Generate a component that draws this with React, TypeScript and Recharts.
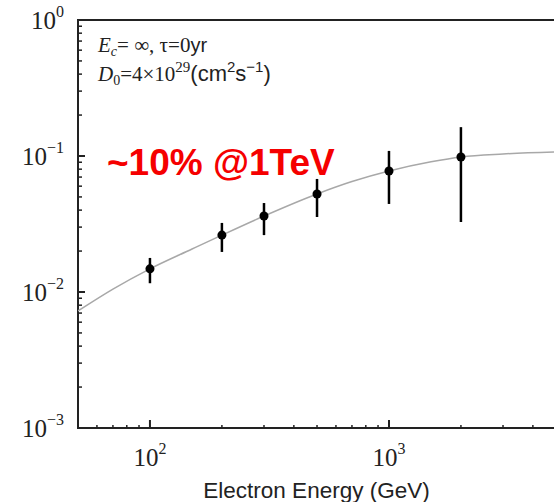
import React from "react";
import { ComposedChart, Line, Scatter, ErrorBar, XAxis, YAxis, ReferenceArea } from "recharts";

// measured points (GeV, value, error bar low / high)
const pointEnergy = [100, 200, 300, 500, 1000, 2000];
const pointValue = [0.0148, 0.0262, 0.0362, 0.0526, 0.0776, 0.0984];
const pointLow = [0.0116, 0.0197, 0.0262, 0.0356, 0.0444, 0.0327];
const pointHigh = [0.0178, 0.0322, 0.0451, 0.0678, 0.109, 0.163];

// model curve
const curveEnergy = [50, 70, 100, 150, 200, 300, 500, 700, 1000, 1500, 2000, 3000, 4950];
const curveValue = [0.00725, 0.0105, 0.0148, 0.0207, 0.0262, 0.0362, 0.0526, 0.0649, 0.0776, 0.0906, 0.0984, 0.1035, 0.107];

const xMajor = [100, 1000];
const xMajorExp = ["2", "3"];
const xMinor = [60, 70, 80, 90, 200, 300, 400, 500, 600, 700, 800, 900, 2000, 3000, 4000];
const yMajor = [0.001, 0.01, 0.1, 1];
const yMajorExp = ["\u22123", "\u22122", "\u22121", "0"];
const yMinor = [
  0.002, 0.003, 0.004, 0.005, 0.006, 0.007, 0.008, 0.009,
  0.02, 0.03, 0.04, 0.05, 0.06, 0.07, 0.08, 0.09,
  0.2, 0.3, 0.4, 0.5, 0.6, 0.7, 0.8, 0.9,
];

const xDomain: [number, number] = [50, 4950];
const yDomain: [number, number] = [0.001, 1];
const xTicks = [...xMajor, ...xMinor].sort((a, b) => a - b);
const yTicks = [...yMajor, ...yMinor].sort((a, b) => a - b);

const pointData = pointEnergy.map((e, i) => ({
  e,
  y: pointValue[i],
  err: [pointValue[i] - pointLow[i], pointHigh[i] - pointValue[i]],
}));
const curveData = curveEnergy.map((e, i) => ({ e, y: curveValue[i] }));

const ink = "#222";
const serif = "Liberation Serif, Times New Roman, serif";
const sans = "Liberation Sans, Arial, sans-serif";

const BottomTick = (props: any) => {
  const { x, y, payload } = props;
  const idx = xMajor.indexOf(payload.value);
  const major = idx >= 0;
  return (
    <g>
      <line x1={x} x2={x} y1={y} y2={y - (major ? 8 : 3)} stroke={ink} strokeWidth={major ? 2 : 1.5} />
      {major && (
        <text x={x} y={y + 38} textAnchor="middle" fontFamily={serif} fontSize={25} fill={ink}>
          10<tspan fontSize={16} dy={-12}>{xMajorExp[idx]}</tspan>
        </text>
      )}
    </g>
  );
};

const TopTick = (props: any) => {
  const { x, y, payload } = props;
  const major = xMajor.includes(payload.value);
  return <line x1={x} x2={x} y1={y} y2={y + (major ? 8 : 3)} stroke={ink} strokeWidth={major ? 2 : 1.5} />;
};

const LeftTick = (props: any) => {
  const { x, y, payload } = props;
  const idx = yMajor.indexOf(payload.value);
  const major = idx >= 0;
  return (
    <g>
      <line x1={x} x2={x + (major ? 7 : 4)} y1={y} y2={y} stroke={ink} strokeWidth={major ? 2 : 1.5} />
      {major && (
        <text x={x - 14} y={y + 9} textAnchor="end" fontFamily={serif} fontSize={25} fill={ink}>
          10<tspan fontSize={16} dy={-12}>{yMajorExp[idx]}</tspan>
        </text>
      )}
    </g>
  );
};

const RightTick = (props: any) => {
  const { x, y, payload } = props;
  const major = yMajor.includes(payload.value);
  return <line x1={x} x2={x - (major ? 7 : 4)} y1={y} y2={y} stroke={ink} strokeWidth={major ? 2 : 1.5} />;
};

export default function App() {
  return (
    <div style={{ position: "absolute", left: 0, top: 0, width: 554, height: 502, overflow: "hidden", background: "#fff" }}>
      <ComposedChart width={562} height={502} margin={{ top: 20, right: 7, bottom: 0, left: 0 }}>
        <XAxis
          dataKey="e"
          type="number"
          scale="log"
          domain={xDomain}
          allowDataOverflow
          ticks={xTicks}
          interval={0}
          height={74}
          axisLine={false}
          tickLine={false}
          tickSize={0}
          tickMargin={0}
          tick={<BottomTick />}
          label={{ value: "Electron Energy (GeV)", position: "insideBottom", offset: 4, fill: ink, fontSize: 22.5, fontFamily: sans }}
        />
        <XAxis
          xAxisId="top"
          orientation="top"
          dataKey="e"
          type="number"
          scale="log"
          domain={xDomain}
          allowDataOverflow
          ticks={xTicks}
          interval={0}
          height={0}
          axisLine={false}
          tickLine={false}
          tickSize={0}
          tickMargin={0}
          tick={<TopTick />}
        />
        <YAxis
          dataKey="y"
          type="number"
          scale="log"
          domain={yDomain}
          allowDataOverflow
          ticks={yTicks}
          interval={0}
          width={78}
          axisLine={false}
          tickLine={false}
          tickSize={0}
          tickMargin={0}
          tick={<LeftTick />}
        />
        <YAxis
          yAxisId="right"
          orientation="right"
          dataKey="y"
          type="number"
          scale="log"
          domain={yDomain}
          allowDataOverflow
          ticks={yTicks}
          interval={0}
          width={0}
          axisLine={false}
          tickLine={false}
          tickSize={0}
          tickMargin={0}
          tick={<RightTick />}
        />
        <ReferenceArea
          x1={xDomain[0]}
          x2={xDomain[1]}
          y1={yDomain[0]}
          y2={yDomain[1]}
          fill="none"
          stroke={ink}
          strokeWidth={2}
          ifOverflow="visible"
        />
        <Line
          data={curveData}
          dataKey="y"
          type="monotone"
          stroke="#a8a8a8"
          strokeWidth={1.5}
          dot={false}
          isAnimationActive={false}
        />
        <Scatter data={pointData} dataKey="y" fill="#000" isAnimationActive={false}>
          <ErrorBar dataKey="err" direction="y" width={0} stroke="#000" strokeWidth={2.5} isAnimationActive={false} />
        </Scatter>
      </ComposedChart>
      <svg width={554} height={502} style={{ position: "absolute", left: 0, top: 0, pointerEvents: "none" }}>
        <text x={98} y={52} fontFamily={serif} fontSize={21} fill={ink}>
          <tspan fontStyle="italic">E</tspan>
          <tspan fontStyle="italic" fontSize={14} dy={4}>c</tspan>
          <tspan dy={-4}>= ∞, τ=0</tspan>
          <tspan fontFamily={sans} fontSize={20}>yr</tspan>
        </text>
        <text x={98} y={81} fontFamily={serif} fontSize={21} fill={ink}>
          <tspan fontStyle="italic">D</tspan>
          <tspan fontSize={14} dy={4}>0</tspan>
          <tspan dy={-4}>=4×10</tspan>
          <tspan fontSize={15} dy={-9}>29</tspan>
          <tspan fontFamily={sans} fontSize={22} dy={9}>(cm</tspan>
          <tspan fontFamily={sans} fontSize={15} dy={-9}>2</tspan>
          <tspan fontFamily={sans} fontSize={22} dy={9}>s</tspan>
          <tspan fontFamily={sans} fontSize={15} dy={-9}>−1</tspan>
          <tspan fontFamily={sans} fontSize={22} dy={9}>)</tspan>
        </text>
        <text x={107} y={175} fontFamily={sans} fontWeight="bold" fontSize={37} fill="#f50000">
          ~10% @1TeV
        </text>
      </svg>
    </div>
  );
}
